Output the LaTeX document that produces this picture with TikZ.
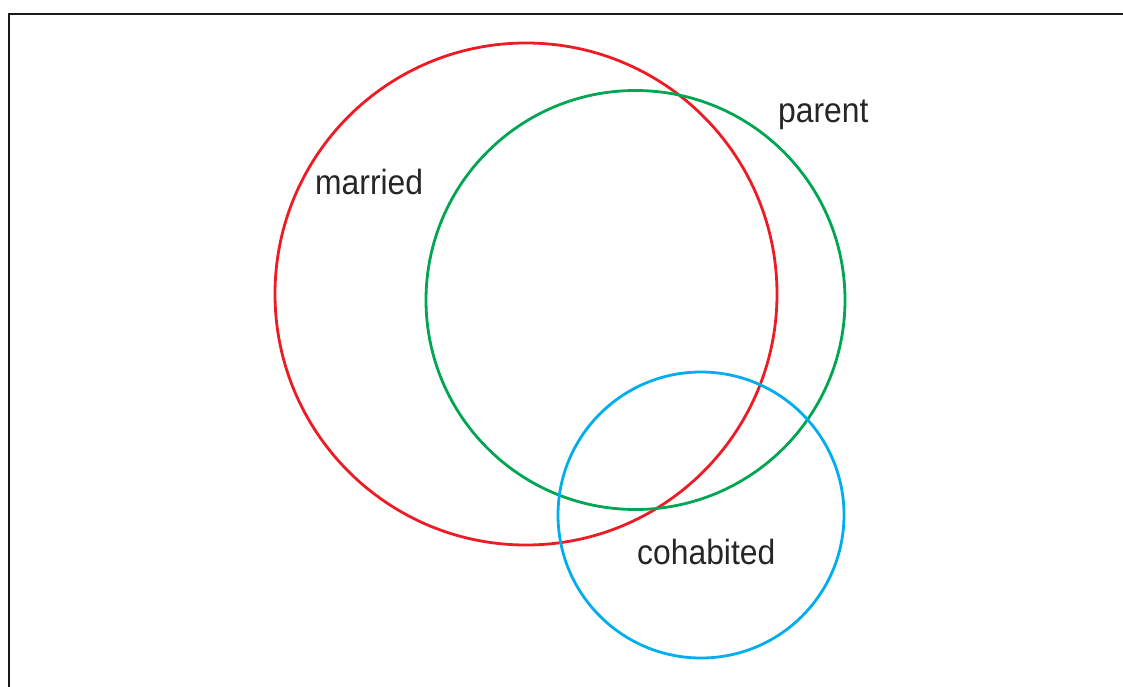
\documentclass[tikz,border=0pt]{standalone}
\usepackage{fontspec}
\setmainfont{Liberation Sans}
\newfontfamily\narrowfont[FakeStretch=0.91]{Liberation Sans}
\definecolor{vred}{RGB}{237,28,36}
\definecolor{vgreen}{RGB}{0,166,81}
\definecolor{vblue}{RGB}{0,174,239}
\begin{document}
\begin{tikzpicture}[x=1pt,y=-1pt,
	set/.style={draw,circle,line width=2.8pt,inner sep=0,outer sep=0},
	setlabel/.style={anchor=base west,inner sep=0,text=black!85,font=\narrowfont\fontsize{35}{40}\selectfont}]
	\useasboundingbox (0,0) rectangle (1123,687);
	\draw[line width=2.4pt,black!90] (9,687) -- (9,14) -- (1123,14);
	\node[set,draw=vred,minimum size=502pt] (married) at (526,294) {};
	\node[set,draw=vgreen,minimum size=419pt] (parent) at (635.5,300) {};
	\node[set,draw=vblue,minimum size=286pt] (cohabited) at (701,515) {};
	\node[setlabel] (marriedlabel) at (315,194) {married};
	\node[setlabel] (parentlabel) at (778,123) {parent};
	\node[setlabel] (cohabitedlabel) at (637,564) {cohabited};
\end{tikzpicture}
\end{document}
